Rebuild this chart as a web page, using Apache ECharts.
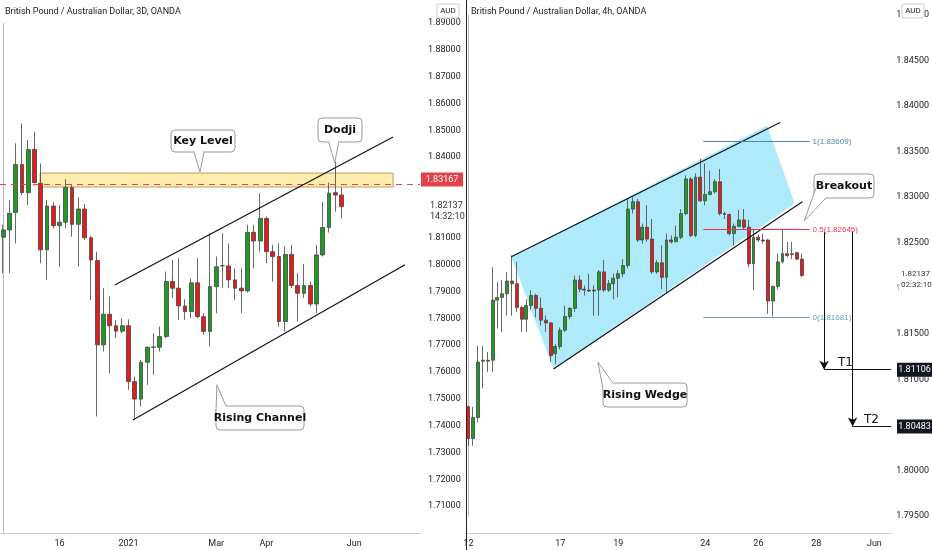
<!DOCTYPE html>
<html><head><meta charset="utf-8">
<script src="https://cdn.jsdelivr.net/npm/echarts@6/dist/echarts.min.js"></script>
<style>html,body{margin:0;padding:0;background:#fff}#c{width:932px;height:550px}</style>
</head><body><div id="c"></div>
<script>
// Left panel (3D) OHLC: [open, close, low, high]
const leftOHLC = [
[1.8102,1.8129,1.7968,1.8148],[1.8129,1.8191,1.7968,1.8241],[1.8194,1.8373,1.8079,1.8452],[1.8373,1.8268,1.8259,1.8526],
[1.8268,1.8429,1.8222,1.8464],[1.8429,1.8305,1.8303,1.8495],[1.8303,1.8055,1.8005,1.8377],[1.8055,1.8218,1.7943,1.8241],
[1.8218,1.8145,1.8135,1.8234],[1.8145,1.8158,1.7992,1.8222],[1.8158,1.8287,1.8135,1.8318],[1.8287,1.8150,1.8104,1.8296],
[1.8150,1.8207,1.7992,1.8251],[1.8207,1.8100,1.8092,1.8226],[1.8100,1.8017,1.7868,1.8107],[1.8015,1.7701,1.7434,1.8048],
[1.7701,1.7815,1.7676,1.7912],[1.7815,1.7772,1.7595,1.7881],[1.7772,1.7752,1.7726,1.7794],[1.7752,1.7772,1.7744,1.7800],
[1.7772,1.7564,1.7533,1.7796],[1.7564,1.7499,1.7422,1.7583],[1.7499,1.7636,1.7471,1.7645],[1.7636,1.7692,1.7552,1.7695],
[1.7692,1.7693,1.7589,1.7744],[1.7692,1.7732,1.7676,1.7769],[1.7732,1.7937,1.7726,1.7974],[1.7937,1.7912,1.7875,1.8017],
[1.7912,1.7846,1.7794,1.8024],[1.7846,1.7825,1.7794,1.7871],[1.7825,1.7932,1.7800,1.7949],[1.7932,1.7806,1.7800,1.8024],
[1.7806,1.7751,1.7738,1.7819],[1.7751,1.7918,1.7695,1.8117],[1.7918,1.7992,1.7819,1.8030],[1.7995,1.7996,1.7912,1.8117],
[1.7995,1.7943,1.7912,1.8079],[1.7943,1.7912,1.7868,1.7986],[1.7912,1.7902,1.7819,1.7986],[1.7902,1.8120,1.7896,1.8148],
[1.8120,1.8088,1.7986,1.8148],[1.8088,1.8172,1.8048,1.8266],[1.8172,1.8048,1.8005,1.8179],[1.8048,1.8030,1.7937,1.8073],
[1.8030,1.7788,1.7769,1.8079],[1.7788,1.8038,1.7751,1.8067],[1.8038,1.7922,1.7912,1.8073],[1.7922,1.7893,1.7788,1.7968],
[1.7893,1.7922,1.7875,1.8002],[1.7922,1.7853,1.7844,1.7937],[1.7853,1.8036,1.7819,1.8073],[1.8036,1.8138,1.8030,1.8234],
[1.8138,1.8266,1.8119,1.8305],[1.8268,1.8259,1.8197,1.8383],[1.8259,1.8216,1.8172,1.8288]
];
// Right panel (4h) OHLC
const rightOHLC = [
[1.8070,1.8035,1.8027,1.8071],[1.8035,1.8058,1.8027,1.8070],[1.8058,1.8119,1.8053,1.8137],[1.8120,1.8121,1.8090,1.8137],
[1.8120,1.8121,1.8108,1.8130],[1.8121,1.8187,1.8108,1.8223],[1.8187,1.8190,1.8156,1.8207],[1.8190,1.8194,1.8152,1.8209],
[1.8194,1.8208,1.8170,1.8218],[1.8208,1.8205,1.8170,1.8236],[1.8205,1.8179,1.8174,1.8229],[1.8179,1.8166,1.8152,1.8181],
[1.8166,1.8181,1.8152,1.8188],[1.8181,1.8192,1.8176,1.8198],[1.8192,1.8178,1.8168,1.8194],[1.8178,1.8165,1.8159,1.8190],
[1.8165,1.8162,1.8152,1.8170],[1.8162,1.8126,1.8119,1.8163],[1.8128,1.8136,1.8117,1.8139],[1.8136,1.8154,1.8133,1.8157],
[1.8154,1.8169,1.8152,1.8181],[1.8169,1.8178,1.8166,1.8179],[1.8178,1.8209,1.8174,1.8214],[1.8209,1.8199,1.8196,1.8214],
[1.8199,1.8198,1.8192,1.8203],[1.8198,1.8197,1.8196,1.8216],[1.8198,1.8197,1.8170,1.8203],[1.8198,1.8218,1.8170,1.8220],
[1.8218,1.8198,1.8196,1.8231],[1.8198,1.8205,1.8196,1.8209],[1.8205,1.8211,1.8188,1.8216],[1.8211,1.8216,1.8190,1.8220],
[1.8216,1.8225,1.8212,1.8232],[1.8225,1.8287,1.8222,1.8298],[1.8287,1.8295,1.8282,1.8300],[1.8295,1.8253,1.8251,1.8298],
[1.8253,1.8267,1.8249,1.8271],[1.8267,1.8254,1.8251,1.8291],[1.8254,1.8218,1.8216,1.8276],[1.8218,1.8228,1.8216,1.8231],
[1.8228,1.8212,1.8199,1.8247],[1.8212,1.8253,1.8194,1.8260],[1.8253,1.8251,1.8249,1.8258],[1.8251,1.8256,1.8251,1.8269],
[1.8256,1.8282,1.8254,1.8287],[1.8282,1.8320,1.8280,1.8324],[1.8320,1.8258,1.8256,1.8322],[1.8258,1.8322,1.8256,1.8326],
[1.8322,1.8296,1.8295,1.8342],[1.8296,1.8303,1.8291,1.8337],[1.8303,1.8306,1.8302,1.8329],[1.8306,1.8317,1.8304,1.8320],
[1.8317,1.8282,1.8280,1.8331],[1.8282,1.8281,1.8276,1.8284],[1.8281,1.8260,1.8258,1.8282],[1.8260,1.8268,1.8247,1.8271],
[1.8268,1.8275,1.8267,1.8286],[1.8275,1.8267,1.8264,1.8287],[1.8267,1.8227,1.8223,1.8275],[1.8227,1.8256,1.8198,1.8264],
[1.8256,1.8253,1.8251,1.8259],[1.8253,1.8252,1.8249,1.8260],[1.8253,1.8186,1.8172,1.8254],[1.8186,1.8202,1.8169,1.8203],
[1.8202,1.8229,1.8199,1.8238],[1.8229,1.8238,1.8227,1.8265],[1.8238,1.8236,1.8234,1.8251],[1.8237,1.8238,1.8232,1.8251],
[1.8239,1.8232,1.8231,1.8240],[1.8232,1.8214,1.8212,1.8238]
];
const leftSlots = 67, rightSlots = 88;
const leftTickLabels = {9:'16', 20:'2021', 34:'Mar', 42:'Apr', 56:'Jun'};
const rightTickLabels = {0:'12', 19:'17', 31:'19', 49:'24', 60:'26', 72:'28', 84:'Jun'};
const keyLevel = 1.83167, keyBand = [1.8289, 1.8341];
const lastPrice = 1.82137;
const channelUpper = [[17.8,1.7924],[62.2,1.8475]];
const channelLower = [[20.7,1.7421],[64.1,1.7999]];
const wedgeUpper = [[8.86,1.82346],[64.5,1.83819]];
const wedgeLower = [[17.6,1.81115],[69.1,1.82951]];
const wedgeFill = [[8.86,1.82346],[61.8,1.83786],[67.5,1.8293],[17.6,1.81115]];
const fib = [{lv:'1',p:1.83609,c:'#4f86a0'},{lv:'0.5',p:1.82645,c:'#f0304a'},{lv:'0',p:1.81681,c:'#5d9fb5'}];
const fibX = [48.6, 70.6];
const T1 = 1.81106, T2 = 1.80483;
const arrowX = [73.6, 79.5];

const mkCats = (n, lab) => Array.from({length:n}, (_, i) => lab[i] || '');
const chart = echarts.init(document.getElementById('c'));
const seg = (pts) => [{coord: pts[0]}, {coord: pts[1]}];
const axisLab = {fontSize: 9, color: '#222', fontFamily: 'Roboto'};
const candleStyle = {color:'#1f9a22', color0:'#e41c1c', borderColor:'#444', borderColor0:'#444', borderWidth:0.8};

const option = {
  animation: false,
  grid: [
    {left: 0, top: 23, width: 420, height: 510},
    {left: 466, top: 15, width: 432, height: 501}
  ],
  xAxis: [
    {type:'category', gridIndex:0, data: mkCats(leftSlots, leftTickLabels), axisTick:{show:false},
     axisLine:{lineStyle:{color:'#ccc'}}, axisLabel:{...axisLab, interval:0, margin:6}},
    {type:'value', gridIndex:0, min:-0.5, max:leftSlots-0.5, show:false},
    {type:'category', gridIndex:1, data: mkCats(rightSlots, rightTickLabels), offset:17, axisTick:{show:false},
     axisLine:{lineStyle:{color:'#ccc'}}, axisLabel:{...axisLab, interval:0, margin:6}},
    {type:'value', gridIndex:1, min:-0.5, max:rightSlots-0.5, show:false}
  ],
  yAxis: [
    {type:'value', gridIndex:0, position:'right', min:1.70, max:1.89, interval:0.01, splitLine:{show:false},
     axisLine:{show:true, lineStyle:{color:'#bbb'}}, axisTick:{show:false},
     axisLabel:{...axisLab, margin:8, formatter: v => v.toFixed(5), showMinLabel:false}},
    {type:'value', gridIndex:1, position:'right', min:1.795, max:1.85, interval:0.005, splitLine:{show:false},
     axisLine:{show:true, lineStyle:{color:'#bbb'}}, axisTick:{show:false},
     axisLabel:{...axisLab, margin:5, formatter: v => v.toFixed(5)}}
  ],
  series: [
    {type:'candlestick', xAxisIndex:0, yAxisIndex:0, data:leftOHLC, barWidth:'68%', itemStyle:candleStyle},
    {type:'candlestick', xAxisIndex:2, yAxisIndex:1, data:rightOHLC, barWidth:'70%', itemStyle:candleStyle},
    {type:'line', xAxisIndex:1, yAxisIndex:0, data:[], symbol:'none', z:1,
     markArea:{silent:true, itemStyle:{color:'rgba(251,234,160,0.85)', borderColor:'#b7a35a', borderWidth:1},
       data:[[{coord:[5.9,keyBand[0]]},{coord:[62.2,keyBand[1]]}]]},
     markLine:{silent:true, symbol:'none', label:{show:false},
       data:[{yAxis:keyLevel, lineStyle:{color:'#e4414b', type:[6,5], width:1}}]}},
    {type:'line', xAxisIndex:1, yAxisIndex:0, data:[], symbol:'none', z:5,
     markLine:{silent:true, symbol:'none', label:{show:false}, lineStyle:{color:'#111', type:'solid', width:1.2},
       data:[seg(channelUpper), seg(channelLower)]}},
    {type:'custom', xAxisIndex:3, yAxisIndex:1, data:[0], z:0, silent:true,
     renderItem:(p, api) => ({type:'polygon', shape:{points: wedgeFill.map(q => api.coord(q))},
       style:{fill:'#aeeafa', stroke:'none'}})},
    {type:'line', xAxisIndex:3, yAxisIndex:1, data:[], symbol:'none', z:5,
     markLine:{silent:true, symbol:'none', label:{show:false}, lineStyle:{color:'#111', type:'solid', width:1.2},
       data:[seg(wedgeUpper), seg(wedgeLower)].concat(fib.map(f => [
         {coord:[fibX[0], f.p], lineStyle:{color:f.c, width:1}, label:{show:true, position:'end', formatter: f.lv+'('+f.p.toFixed(5)+')', color:f.c, fontSize:8, distance:3}},
         {coord:[fibX[1], f.p]}]))}},
    {type:'line', xAxisIndex:3, yAxisIndex:1, data:[], symbol:'none', z:6,
     markLine:{silent:true, symbol:['none','arrow'], symbolSize:[7,9], label:{show:false}, lineStyle:{color:'#111', type:'solid', width:1},
       data:[ [{coord:[arrowX[0],1.8262]},{coord:[arrowX[0],T1]}], [{coord:[arrowX[1],1.8262]},{coord:[arrowX[1],T2]}] ]}},
    {type:'line', xAxisIndex:3, yAxisIndex:1, data:[], symbol:'none', z:6,
     markLine:{silent:true, symbol:'none', lineStyle:{color:'#111', type:'solid', width:1}, label:{show:false},
       data:[ [{coord:[arrowX[0],T1]},{coord:[87.5,T1]}], [{coord:[arrowX[1],T2]},{coord:[87.5,T2]}] ]}}
  ]
};
chart.setOption(option);

const L = (x, y) => chart.convertToPixel({seriesIndex:3}, [x, y]);
const R = (x, y) => chart.convertToPixel({seriesIndex:5}, [x, y]);
const g = [];
function callout(tip, cx, cy, w, h, text, side) {
  const x0 = cx - w/2, y0 = cy - h/2;
  g.push({type:'rect', shape:{x:x0, y:y0, width:w, height:h, r:4}, style:{fill:'#fff', stroke:'#999', lineWidth:1}, z:100});
  let a, b;
  if (side === 'bottom') { a = [tip[0]-6, y0+h]; b = [tip[0]+4, y0+h]; }
  else if (side === 'bottomleft') { a = [x0+2, y0+h-10]; b = [x0+12, y0+h]; }
  else { a = [x0, y0+6]; b = [x0+10, y0]; }
  g.push({type:'polygon', shape:{points:[a, tip, b]}, style:{fill:'#fff', stroke:'#999', lineWidth:1}, z:101});
  g.push({type:'line', shape:{x1:a[0]+0.5, y1:a[1], x2:b[0]-0.5, y2:b[1]}, style:{stroke:'#fff', lineWidth:2}, z:102});
  g.push({type:'text', x:cx, y:cy, style:{text, fill:'#111', font:'bold 11px "DejaVu Sans"', align:'center', verticalAlign:'middle'}, z:103});
}
callout(L(31.4,1.8345), 203, 141, 64, 22, 'Key Level', 'bottom');
callout(L(52.9,1.8379), 340, 130, 44, 24, 'Dodji', 'bottom');
callout(L(34.1,1.7552), 260, 418, 88, 24, 'Rising Channel', 'top');
callout(R(26.8,1.8119), 645, 395, 84, 24, 'Rising Wedge', 'top');
callout(R(69.5,1.82742), 844, 186, 60, 24, 'Breakout', 'bottomleft');

function tag(px, y, text, bg, fg, w) {
  g.push({type:'rect', shape:{x:px, y:y-7, width:w, height:14}, style:{fill:bg}, z:110});
  g.push({type:'text', x:px+w/2, y:y, style:{text, fill:fg, font:'9px Roboto', align:'center', verticalAlign:'middle'}, z:111});
}
tag(421, L(0, keyLevel)[1], keyLevel.toFixed(5), '#e4414b', '#fff', 42);
tag(897, R(0, T1)[1], T1.toFixed(5), '#131722', '#fff', 35);
tag(897, R(0, T2)[1], T2.toFixed(5), '#131722', '#fff', 35);
const yl = L(0, lastPrice)[1], yr = R(0, lastPrice)[1];
g.push({type:'rect', shape:{x:421, y:yl-8, width:44, height:24}, style:{fill:'#fff'}, z:110});
g.push({type:'rect', shape:{x:898.6, y:yr-8, width:34, height:24}, style:{fill:'#fff'}, z:110});
g.push({type:'text', x:430, y:yl+4, style:{text:lastPrice.toFixed(5)+'\n14:32:10', fill:'#333', font:'9px Roboto', lineHeight:11, verticalAlign:'middle'}, z:111});
g.push({type:'text', x:901, y:yr+4, style:{text:lastPrice.toFixed(5)+'\n02:32:10', fill:'#333', font:'8px Roboto', lineHeight:11, verticalAlign:'middle'}, z:111});
g.push({type:'text', x:838, y:R(0,T1)[1]-1, style:{text:'T1', fill:'#111', font:'12px "DejaVu Sans"', verticalAlign:'bottom'}, z:111});
g.push({type:'text', x:864, y:R(0,T2)[1]-1, style:{text:'T2', fill:'#111', font:'12px "DejaVu Sans"', verticalAlign:'bottom'}, z:111});
g.push({type:'text', x:5, y:12, style:{text:'British Pound / Australian Dollar, 3D, OANDA', fill:'#222', font:'9px Roboto', verticalAlign:'middle'}, z:111});
g.push({type:'text', x:471, y:12, style:{text:'British Pound / Australian Dollar, 4h, OANDA', fill:'#222', font:'9px Roboto', verticalAlign:'middle'}, z:111});
[[437,'AUD'],[902,'AUD']].forEach(([x,t]) => {
  g.push({type:'rect', shape:{x:x, y:4, width:22, height:14, r:2}, style:{fill:'#fff', stroke:'#ccc'}, z:112});
  g.push({type:'text', x:x+11, y:11, style:{text:t, fill:'#222', font:'8px Roboto', align:'center', verticalAlign:'middle'}, z:113});
});
g.push({type:'line', shape:{x1:466.5, y1:0, x2:466.5, y2:550}, style:{stroke:'#222', lineWidth:1}, z:120});
chart.setOption({graphic: g});
</script></body></html>
